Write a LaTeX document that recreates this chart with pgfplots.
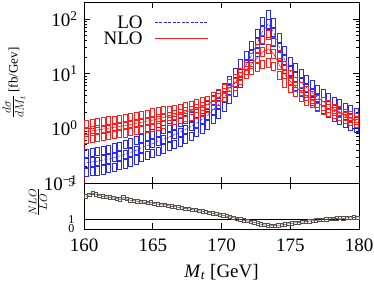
\documentclass[border=0pt]{standalone}
\usepackage{fontspec}
\setmainfont{Liberation Serif}
\usepackage{pgfplots}
\usepackage{pgfplotstable}
\pgfplotsset{compat=1.18}
\definecolor{rbox}{RGB}{90,80,80}
\definecolor{bblue}{RGB}{40,40,255}
\definecolor{rred}{RGB}{255,30,30}

\pgfdeclareplotmark{bluebox}{%
  \pgfsetstrokecolor{bblue}\pgfsetlinewidth{0.75pt}\pgfsetdash{}{0pt}%
  \pgfpathrectangle{\pgfpoint{-2.1pt}{-4.2pt}}{\pgfpoint{4.2pt}{8.4pt}}%
  \pgfusepathqstroke}
\pgfdeclareplotmark{redbox}{%
  \pgfsetstrokecolor{rred}\pgfsetlinewidth{0.75pt}\pgfsetdash{}{0pt}%
  \pgfpathrectangle{\pgfpoint{-2.1pt}{-4.2pt}}{\pgfpoint{4.2pt}{8.4pt}}%
  \pgfusepathqstroke}
\pgfdeclareplotmark{graybox}{%
  \pgfsetstrokecolor{rbox}\pgfsetlinewidth{0.7pt}\pgfsetdash{}{0pt}%
  \pgfpathrectangle{\pgfpoint{-1.7pt}{-1.7pt}}{\pgfpoint{3.4pt}{3.4pt}}%
  \pgfusepathqstroke}

\pgfplotstableread{
x lolo lomid lohi nlolo nlomid nlohi
160.2 0.156 0.234 0.351 0.642 0.867 1.17
160.6 0.162 0.243 0.365 0.666 0.899 1.21
161.0 0.167 0.251 0.377 0.691 0.933 1.26
161.4 0.175 0.263 0.395 0.717 0.968 1.31
161.8 0.183 0.275 0.413 0.744 1.005 1.36
162.2 0.195 0.292 0.438 0.770 1.04 1.40
162.6 0.209 0.313 0.470 0.80 1.08 1.46
163.0 0.223 0.335 0.503 0.83 1.12 1.51
163.4 0.242 0.363 0.545 0.87 1.175 1.59
163.8 0.265 0.398 0.597 0.911 1.23 1.66
164.2 0.294 0.441 0.662 0.956 1.29 1.74
164.6 0.322 0.483 0.725 1.0 1.35 1.82
165.0 0.350 0.525 0.788 1.04 1.41 1.90
165.4 0.383 0.575 0.863 1.10 1.49 2.01
165.8 0.421 0.631 0.947 1.17 1.58 2.13
166.2 0.463 0.695 1.04 1.34 1.67 2.09
166.6 0.513 0.769 1.15 1.41 1.76 2.2
167.0 0.567 0.851 1.28 1.49 1.86 2.33
167.4 0.639 0.959 1.44 1.59 1.99 2.49
167.8 0.72 1.08 1.62 1.70 2.12 2.65
168.2 0.833 1.25 1.88 1.83 2.29 2.86
168.6 0.98 1.47 2.21 2.01 2.51 3.14
169.0 1.16 1.74 2.61 2.33 2.75 3.25
169.4 1.46 2.19 3.29 2.70 3.19 3.76
169.8 1.83 2.75 4.13 3.14 3.70 4.37
170.2 2.48 3.72 5.58 3.77 4.45 5.25
170.6 3.34 5.01 7.52 4.70 5.55 6.55
171.0 4.61 6.92 10.4 5.86 6.92 8.17
171.4 6.67 10.0 15.0 7.58 8.95 10.6
171.8 9.67 14.5 21.8 9.83 11.6 13.7
172.2 14.6 21.9 32.9 11.5 15.0 19.5
172.6 24.2 36.3 54.5 12.9 19.4 29.1
173.0 40.2 60.3 90.5 14.8 25.1 42.7
173.4 54.2 81.3 118 15.7 28.2 50.8
173.8 37.5 56.2 84.3 13.5 22.9 38.9
174.2 20.1 30.2 45.3 9.35 14.5 22.5
174.6 11.9 17.8 26.7 6.76 9.8 14.2
175.0 7.47 11.2 16.8 5.33 7.2 9.72
175.4 5.8 8.7 13.1 4.6 5.75 7.19
175.8 4.53 6.8 10.2 3.74 4.68 5.85
176.2 3.93 5.5 7.7 3.11 3.89 4.86
176.6 3.19 4.47 6.26 2.84 3.35 3.95
177.0 2.59 3.63 5.08 2.44 2.88 3.40
177.4 2.21 3.09 4.33 2.18 2.57 3.03
177.8 1.88 2.63 3.68 1.94 2.29 2.70
178.2 1.6 2.24 3.14 1.82 2.04 2.28
178.6 1.43 2.0 2.8 1.66 1.86 2.08
179.0 1.24 1.74 2.44 1.48 1.66 1.86
179.4 1.11 1.55 2.17 1.35 1.51 1.69
179.8 0.99 1.38 1.93 1.23 1.38 1.55
}\tops

\pgfplotstableread{
x r
160.125 3.55
160.375 3.70
160.625 3.90
160.875 3.78
161.125 3.62
161.375 3.55
161.625 3.48
161.875 3.45
162.125 3.38
162.375 3.30
162.625 3.22
162.875 3.42
163.125 3.25
163.375 3.12
163.625 3.08
163.875 3.02
164.125 2.95
164.375 2.92
164.625 2.85
164.875 2.90
165.125 2.75
165.375 2.70
165.625 2.62
165.875 2.65
166.125 2.52
166.375 2.45
166.625 2.42
166.875 2.35
167.125 2.28
167.375 2.22
167.625 2.18
167.875 2.10
168.125 2.05
168.375 1.98
168.625 1.92
168.875 1.85
169.125 1.78
169.375 1.70
169.625 1.62
169.875 1.55
170.125 1.48
170.375 1.40
170.625 1.32
170.875 1.22
171.125 1.12
171.375 1.03
171.625 0.95
171.875 0.88
172.125 0.80
172.375 0.72
172.625 0.62
172.875 0.52
173.125 0.44
173.375 0.38
173.625 0.35
173.875 0.36
174.125 0.40
174.375 0.45
174.625 0.50
174.875 0.56
175.125 0.62
175.375 0.66
175.625 0.70
175.875 0.76
176.125 0.80
176.375 0.85
176.625 0.90
176.875 0.95
177.125 0.98
177.375 1.02
177.625 1.05
177.875 1.08
178.125 1.12
178.375 1.14
178.625 1.18
178.875 1.16
179.125 1.22
179.375 1.20
179.625 1.26
179.875 1.22
}\ratio

\begin{document}
\begin{tikzpicture}
\useasboundingbox (0,0) rectangle (374pt,291pt);
\pgfplotsset{
  common/.style={
    scale only axis, width=275pt, anchor=south west,
    xmin=160, xmax=180,
    tick align=inside,
    major tick length=6pt, minor tick length=3pt,
    xtick pos=both, ytick pos=both,
    axis line style={line width=0.8pt},
    every tick/.style={black, line width=0.6pt},
    /pgf/number format/assume math mode=true,
    tick label style={font=\fontsize{19}{22}\selectfont},
  },
  boxes/.style={only marks, mark=#1, forget plot},
}
\begin{axis}[common,
  at={(84pt,108pt)}, height=181pt,
  ymode=log, ymin=0.1, ymax=204,
  xtick={160,165,170,175,180}, xticklabels={},
  ytick={0.1,1,10,100},
  yticklabels={10\textsuperscript{−1},10\textsuperscript{0},10\textsuperscript{1},10\textsuperscript{2}},
  yticklabel style={xshift=-3pt},
  legend style={draw=none, fill=none, at={(0.452,0.935)}, anchor=north east,
    font=\fontsize{19}{22}\selectfont, inner sep=0pt,
    nodes={inner sep=1.5pt}, column sep=10pt, row sep=-1pt},
  legend plot pos=right,
  legend cell align=right,
  legend image code/.code={\draw[#1] (0pt,0pt) -- (53pt,0pt);},
]
\addlegendimage{bblue, line width=0.8pt, dash pattern=on 3pt off 1.5pt}
\addlegendentry{LO}
\addlegendimage{rred, line width=1pt}
\addlegendentry{NLO}
\addplot[bblue, dash pattern=on 3pt off 1.5pt, line width=0.5pt, forget plot] table[x=x, y=lomid] {\tops};
\addplot[boxes=bluebox] table[x=x, y=lolo] {\tops};
\addplot[boxes=bluebox] table[x=x, y=lomid] {\tops};
\addplot[boxes=bluebox] table[x=x, y=lohi] {\tops};
\addplot[boxes=redbox] table[x=x, y=nlolo] {\tops};
\addplot[boxes=redbox] table[x=x, y=nlomid] {\tops};
\addplot[boxes=redbox] table[x=x, y=nlohi] {\tops};
\addplot[rred, line width=0.6pt, forget plot] table[x=x, y=nlomid] {\tops};
\addplot[red!70!black, line width=1pt, forget plot] coordinates {(160,0.05) (160,0.867)};
\addplot[red!70!black, line width=1pt, forget plot] coordinates {(180,0.05) (180,1.38)};
\end{axis}

\begin{axis}[common,
  at={(84pt,62pt)}, height=46pt,
  ymin=0, ymax=5,
  xtick={160,165,170,175,180},
  ytick={0,1,5},
  xticklabel style={yshift=-6pt},
  yticklabel style={font=\fontsize{12}{12}\selectfont, xshift=-6pt},
]
\addplot[black, line width=0.8pt] coordinates {(160,1) (180,1)};
\addplot[rbox, line width=0.6pt] table[x=x, y=r] {\ratio};
\addplot[only marks, mark=graybox] table[x=x, y=r] {\ratio};
\end{axis}

\node at (221.5pt,19pt) {\fontsize{19}{22}\selectfont\textit{M}\textsubscript{\textit{t}} [GeV]};
\node[rotate=90] at (14pt,208pt) {{\fontsize{17}{19}\selectfont$\frac{d\sigma}{dM_t}$}\ {\fontsize{13}{15}\selectfont[fb/Gev]}};
\node[rotate=90] at (38pt,89pt) {\fontsize{15}{17}\selectfont$\frac{NLO}{LO}$};
\end{tikzpicture}
\end{document}
